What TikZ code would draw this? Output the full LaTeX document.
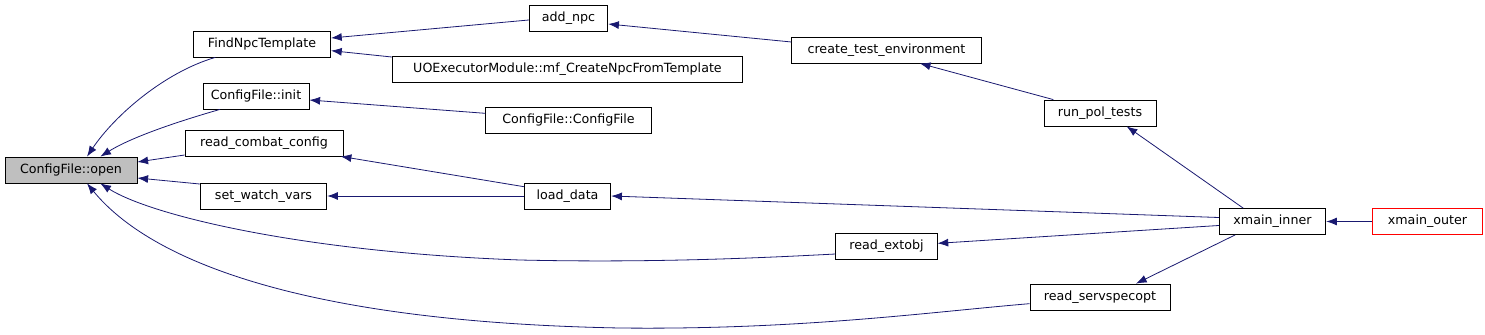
\documentclass[tikz,border=0pt]{standalone}
\usepackage{fontspec}
\setmainfont{DejaVu Sans}
\usetikzlibrary{arrows.meta, positioning}
\definecolor{edgeblue}{RGB}{25,25,112}
\definecolor{rootgray}{RGB}{191,191,191}
\tikzset{
    fn/.style={rectangle, draw=black, line width=0.6pt, minimum height=19.5pt,
               inner sep=0pt, font=\fontsize{9.5}{10}\selectfont},
    root/.style={fn, fill=rootgray},
    outer/.style={fn, draw=red},
    call/.style={edgeblue, line width=0.6pt, {Latex[length=8pt, width=6pt]}-}
}

\begin{document}
\begin{tikzpicture}[x=0.75pt, y=-0.75pt]
    \useasboundingbox (0,0) rectangle (1485,335);

    % Functions
    \node[root, minimum width=99pt] (open) at (71,170) {ConfigFile::open};
    \node[fn, minimum width=103pt] (findnpc) at (262,44) {FindNpcTemplate};
    \node[fn, minimum width=79.5pt] (init) at (256,96) {ConfigFile::init};
    \node[fn, minimum width=118.5pt] (combat) at (264,143) {read\_combat\_config};
    \node[fn, minimum width=95pt] (watch) at (263.5,196) {set\_watch\_vars};
    \node[fn, minimum width=59pt] (addnpc) at (568.5,18) {add\_npc};
    \node[fn, minimum width=263pt] (uoexec) at (567.5,69) {UOExecutorModule::mf\_CreateNpcFromTemplate};
    \node[fn, minimum width=124pt] (cfgctor) at (568.5,120) {ConfigFile::ConfigFile};
    \node[fn, minimum width=65pt] (loaddata) at (567.5,196) {load\_data};
    \node[fn, minimum width=142pt] (testenv) at (886.5,50) {create\_test\_environment};
    \node[fn, minimum width=84pt] (poltests) at (1100,113) {run\_pol\_tests};
    \node[fn, minimum width=76pt] (extobj) at (886.5,246) {read\_extobj};
    \node[fn, minimum width=105pt] (servspec) at (1100,297) {read\_servspecopt};
    \node[fn, minimum width=80pt] (inner) at (1272.5,221.5) {xmain\_inner};
    \node[outer, minimum width=82pt] (outerfn) at (1427.5,221.5) {xmain\_outer};

    % Calls into ConfigFile::open
    \draw[call] ([xshift=12pt]open.north) .. controls (115,115) and (165,72) .. ([xshift=-35pt]findnpc.south);
    \draw[call] ([xshift=22pt]open.north) .. controls (135,135) and (190,118) .. ([xshift=-27pt]init.south);
    \draw[call] ([yshift=6pt]open.east) -- ([yshift=-9pt]combat.west);
    \draw[call] ([yshift=-6pt]open.east) -- ([yshift=9pt]watch.west);
    \draw[call] ([xshift=22pt]open.south) .. controls (150,215) and (300,252) .. (520,260)
        .. controls (650,263) and (760,258) .. ([yshift=-6pt]extobj.west);
    \draw[call] ([xshift=12pt]open.south) .. controls (150,260) and (300,322) .. (620,328)
        .. controls (800,330) and (930,312) .. ([yshift=-5pt]servspec.west);

    % Second level
    \draw[call] ([yshift=4.5pt]findnpc.east) -- ([yshift=-1.5pt]addnpc.west);
    \draw[call] ([yshift=-5pt]findnpc.east) -- ([yshift=9pt]uoexec.west);
    \draw[call] ([yshift=-3pt]init.east) -- ([yshift=5pt]cfgctor.west);
    \draw[call] ([xshift=-2pt]combat.south east) -- ([yshift=7pt]loaddata.west);
    \draw[call] (watch.east) -- (loaddata.west);
    \draw[call] ([yshift=-4.5pt]addnpc.east) -- ([yshift=6pt]testenv.west);
    \draw[call] ([xshift=25pt]testenv.south) -- ([xshift=-35pt]poltests.north);

    % Calls from xmain_inner
    \draw[call] ([xshift=20pt]poltests.south) -- ([xshift=-22pt]inner.north);
    \draw[call] (loaddata.east) -- ([yshift=3pt]inner.west);
    \draw[call] ([yshift=2pt]extobj.east) -- ([yshift=-3pt]inner.west);
    \draw[call] ([xshift=27pt]servspec.north) -- ([xshift=-28pt]inner.south);
    \draw[call] (inner.east) -- (outerfn.west);
\end{tikzpicture}
\end{document}
